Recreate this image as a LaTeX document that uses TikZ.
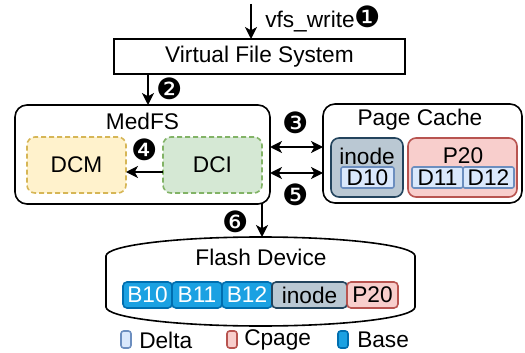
\documentclass[tikz,border=0pt]{standalone}
\usepackage{fontspec}
\setmainfont{Liberation Sans}
\newfontfamily\circfont{DejaVu Sans}
\usetikzlibrary{arrows.meta,calc}
\definecolor{yelF}{HTML}{FFF2CC}\definecolor{yelD}{HTML}{D6B656}
\definecolor{grnF}{HTML}{D5E8D4}\definecolor{grnD}{HTML}{82B366}
\definecolor{gryF}{HTML}{BAC8D3}\definecolor{gryD}{HTML}{23445D}
\definecolor{redF}{HTML}{F8CECC}\definecolor{redD}{HTML}{B85450}
\definecolor{dltF}{HTML}{DAE8FC}\definecolor{dltD}{HTML}{6C8EBF}
\definecolor{basF}{HTML}{1BA1E2}\definecolor{basD}{HTML}{006EAF}
\begin{document}
\begin{tikzpicture}[x=0.75pt,y=-0.75pt,
  font=\fontsize{17}{20}\selectfont,
  ln/.style={line width=1.2pt},
  box/.style={draw, ln, inner sep=0pt, outer sep=0pt, align=center},
  arr/.style={ln, -{Stealth[length=9pt,width=9pt,inset=2.5pt]}},
  darr/.style={ln, {Stealth[length=9pt,width=9pt,inset=2.5pt]}-{Stealth[length=9pt,width=9pt,inset=2.5pt]}},
  num/.style={font=\circfont\fontsize{22}{22}\selectfont, inner sep=0pt},
  dbox/.style={box, dash pattern=on 3.75pt off 2.25pt, rounded corners=6pt, minimum width=74.25pt, minimum height=42pt},
  delta/.style={box, fill=dltF, draw=dltD, rounded corners=1.5pt, minimum height=15.75pt},
  blk/.style={box, rounded corners=3pt, minimum height=19.5pt},
  base/.style={blk, fill=basF, draw=basD, text=white},
  legmark/.style={box, rounded corners=2pt, minimum width=7.5pt, minimum height=12.75pt},
  lbl/.style={inner sep=0pt, anchor=west}
]
\useasboundingbox (0,0) rectangle (525,353);

% VFS
\node[box, minimum width=218.25pt, minimum height=26.25pt] (vfs) at (259.5,56.5) {Virtual File System};
\coordinate (in) at (251,4);
\draw[arr] (in) -- (in |- vfs.north);
\node[lbl] (vfsw) at (265,19) {vfs\_write{\circfont\fontsize{22}{22}\selectfont ❶}};

% MedFS
\node[box, rounded corners=9pt, minimum width=191.25pt, minimum height=74.25pt] (medfs) at (142.5,154.5) {};
\node (medfsl) at (142.5,121) {MedFS};
\node[dbox, fill=yelF, draw=yelD] (dcm) at (76.5,165) {DCM};
\node[dbox, fill=grnF, draw=grnD] (dci) at (212.5,165) {DCI};
\draw[arr] ($(dci.west)+(0,7)$) -- ($(dcm.east)+(0,7)$);
\node[num] (n4) at (145,150) {❹};

\coordinate (x2) at (148,0);
\draw[arr] (vfs.south -| x2) -- (medfs.north -| x2);
\node[num] (n2) at (170,89) {❷};

% Page cache
\node[box, rounded corners=9pt, minimum width=149.25pt, minimum height=74.25pt] (pc) at (422.5,153.5) {};
\node (pcl) at (420,120) {Page Cache};
\node[box, rounded corners=6pt, fill=gryF, draw=gryD, minimum width=54pt, minimum height=44.25pt] (ino) at (367,167.5) {};
\node (inol) at (367,156) {inode};
\node[delta, minimum width=39.75pt] (d10) at (367.5,177.5) {D10};
\node[box, rounded corners=6pt, fill=redF, draw=redD, minimum width=81.75pt, minimum height=44.25pt] (p20) at (462.5,167.5) {};
\node (p20l) at (463,156) {P20};
\node[delta, minimum width=38.25pt] (d11) at (437.5,177.5) {D11};
\node[delta, minimum width=38.25pt] (d12) at (488.5,177.5) {D12};

% double arrows
\coordinate (y3) at (0,147);
\coordinate (y5) at (0,173);
\draw[darr] (medfs.east |- y3) -- (pc.west |- y3);
\draw[darr] (medfs.east |- y5) -- (pc.west |- y5);
\node[num] (n3) at (296,123) {❸};
\node[num] (n5) at (296,195) {❺};

% Flash device
\draw[ln] (106,256) arc[start angle=180, end angle=0, x radius=115.875pt, y radius=14.25pt]
  -- (415,307) arc[start angle=0, end angle=-180, x radius=115.875pt, y radius=14.25pt] -- cycle;
\node (flash) at (261,257) {Flash Device};
\coordinate (cyltop) at (262,237);
\coordinate (x6) at (262,0);
\draw[arr] (medfs.south -| x6) -- (cyltop);
\node[num] (n6) at (236,222) {❻};

\node[base, minimum width=36.75pt] (b10) at (147.5,295) {B10};
\node[base, minimum width=37.5pt] (b11) at (197,295) {B11};
\node[base, minimum width=37.5pt] (b12) at (247,295) {B12};
\node[blk, fill=gryF, draw=gryD, minimum width=56.25pt] (bino) at (309.5,295) {inode};
\node[blk, fill=redF, draw=redD, minimum width=38.25pt] (bp20) at (372.5,295) {P20};

% legend
\node[legmark, fill=dltF, draw=dltD] (m1) at (126,339.5) {};
\node[lbl] (t1) at (139,340) {Delta};
\node[legmark, fill=redF, draw=redD] (m2) at (232,339.5) {};
\node[lbl] (t2) at (244,340) {Cpage};
\node[legmark, fill=basF, draw=basD] (m3) at (343,339.5) {};
\node[lbl] (t3) at (357,340) {Base};
\end{tikzpicture}
\end{document}
